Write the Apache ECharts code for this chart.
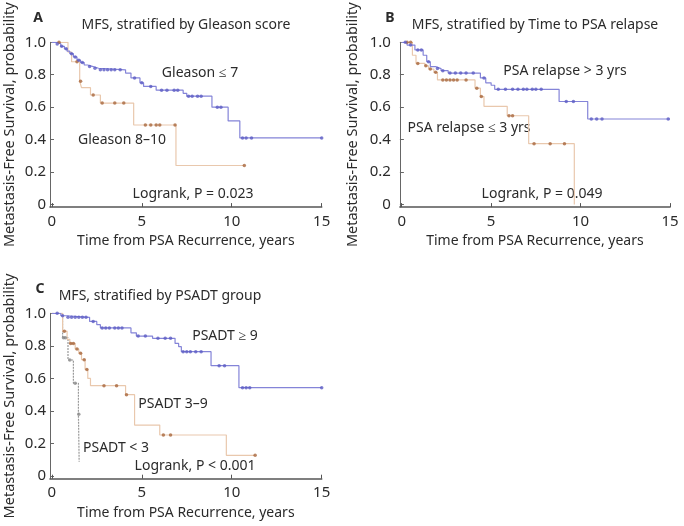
<!DOCTYPE html>
<html>
<head>
<meta charset="utf-8">
<script src="https://cdn.jsdelivr.net/npm/echarts@6/dist/echarts.min.js"></script>
<style>
html,body{margin:0;padding:0;background:#fff;}
#chart{width:684px;height:526px;}
</style>
</head>
<body>
<div id="chart"></div>
<script>
// ---------- Data ----------
// Panel A: Gleason score
const gleLowT = [0, 0.3, 0.5, 0.7, 0.85, 1.0, 1.2, 1.4, 1.6, 1.8, 2.0, 2.3, 2.6, 4.1, 4.4, 4.9, 5.1, 5.8, 7.3, 7.5, 8.9, 9.8, 10.45, 15.0];
const gleLowS = [1.0, 0.99, 0.975, 0.96, 0.945, 0.93, 0.91, 0.89, 0.875, 0.86, 0.85, 0.84, 0.83, 0.81, 0.78, 0.75, 0.728, 0.705, 0.685, 0.668, 0.60, 0.515, 0.41, 0.41];
const gleLowCens = [0.3, 0.55, 0.8, 1.1, 1.3, 1.5, 1.7, 2.1, 2.4, 2.7, 2.9, 3.1, 3.3, 3.5, 3.8, 4.6, 5.0, 5.5, 6.1, 6.4, 6.8, 7.0, 7.6, 7.8, 8.1, 8.3, 9.2, 9.4, 10.6, 10.8, 11.1, 15.0];
const gleHighT = [0, 0.9, 1.1, 1.55, 1.65, 2.15, 2.7, 4.55, 6.9, 10.7];
const gleHighS = [1.0, 0.94, 0.88, 0.76, 0.72, 0.675, 0.625, 0.49, 0.24, 0.24];
const gleHighCens = [0.4, 1.4, 1.6, 2.3, 2.8, 3.5, 4.0, 5.2, 5.5, 5.8, 6.0, 6.85, 10.7];

// Panel B: Time to PSA relapse
const lateT = [0, 0.3, 0.74, 1.2, 1.4, 1.6, 1.9, 2.2, 2.6, 4.4, 4.7, 5.0, 5.2, 8.8, 10.4, 15.0];
const lateS = [1.0, 0.983, 0.953, 0.92, 0.88, 0.85, 0.838, 0.825, 0.81, 0.78, 0.75, 0.735, 0.71, 0.635, 0.527, 0.527];
const lateCens = [0.2, 0.5, 0.9, 1.1, 1.5, 2.0, 2.3, 2.7, 3.0, 3.3, 3.6, 4.0, 4.6, 5.4, 5.8, 6.2, 6.5, 6.8, 7.0, 7.3, 7.5, 7.8, 9.2, 9.6, 10.6, 10.9, 11.2, 14.9];
const earlyT = [0, 0.6, 0.8, 1.3, 1.5, 1.8, 2.0, 4.1, 4.4, 4.6, 5.9, 7.1, 9.65];
const earlyS = [1.0, 0.92, 0.87, 0.855, 0.835, 0.815, 0.768, 0.717, 0.665, 0.605, 0.547, 0.375, 0.0];
const earlyCens = [0.3, 0.5, 0.9, 1.35, 1.6, 1.9, 2.3, 2.5, 2.7, 2.9, 3.1, 3.6, 4.2, 4.45, 6.0, 6.2, 7.4, 8.3, 9.1];

// Panel C: PSADT group
const dtHighT = [0, 0.5, 0.8, 2.1, 2.5, 2.7, 4.4, 4.7, 5.6, 6.85, 7.05, 7.2, 8.85, 10.4, 15.0];
const dtHighS = [1.0, 0.985, 0.975, 0.95, 0.93, 0.91, 0.88, 0.86, 0.846, 0.815, 0.795, 0.764, 0.678, 0.543, 0.543];
const dtHighCens = [0.3, 0.6, 0.9, 1.1, 1.3, 1.5, 1.7, 1.9, 2.3, 2.8, 3.0, 3.2, 3.5, 3.7, 3.9, 4.8, 5.2, 5.9, 6.3, 6.6, 7.3, 7.5, 7.7, 8.0, 8.3, 9.3, 9.6, 10.6, 10.8, 11.0, 15.0];
const dtMidT = [0, 0.6, 0.85, 1.0, 1.3, 1.5, 1.65, 1.85, 2.0, 2.15, 4.1, 4.6, 6.0, 9.7, 11.3];
const dtMidS = [1.0, 0.89, 0.84, 0.815, 0.78, 0.755, 0.715, 0.655, 0.60, 0.555, 0.50, 0.313, 0.252, 0.127, 0.127];
const dtMidCens = [0.7, 1.05, 1.2, 1.4, 1.6, 1.8, 1.95, 2.9, 3.6, 4.15, 6.2, 6.6, 11.3];
const dtLowT = [0, 0.6, 0.9, 1.2, 1.48, 1.52];
const dtLowS = [1.0, 0.85, 0.713, 0.57, 0.38, 0.088];
const dtLowCens = [0.65, 0.75, 1.0, 1.3, 1.5];

const xTicks = [0, 5, 10, 15];
const yTicks = [0, 0.2, 0.4, 0.6, 0.8, 1.0];

// ---------- Helpers ----------
const BLUE_LINE = '#8484d8', BLUE_MARK = '#5c5cc4';
const ORG_LINE = '#e9c8ad', ORG_MARK = '#a8663c';
const GRAY_LINE = '#9a9a9a', GRAY_MARK = '#8a8a8a';
const FONT = 'Noto Sans';
const TXT = '#2b2b2b';

function pairs(T, S) { return T.map((t, i) => [t, S[i]]); }
function censPts(T, S, C) {
  return C.map(c => {
    let s = S[0];
    for (let i = 0; i < T.length; i++) { if (T[i] <= c) s = S[i]; }
    return [c, s];
  });
}
function stepSeries(idx, T, S, color, dash) {
  return { type: 'line', xAxisIndex: idx, yAxisIndex: idx, step: 'end', data: pairs(T, S),
    showSymbol: false, silent: true, lineStyle: { color: color, width: 1.2, type: dash || 'solid' }, z: 2 };
}
function censSeries(idx, T, S, C, color) {
  return { type: 'scatter', xAxisIndex: idx, yAxisIndex: idx, data: censPts(T, S, C),
    symbol: 'circle', symbolSize: 3.5, silent: true, itemStyle: { color: color }, z: 3 };
}

const grids = [
  { left: 50, top: 42.3, width: 271.7, height: 164.8 },
  { left: 399.9, top: 42.3, width: 270.1, height: 164.8 },
  { left: 50, top: 313.3, width: 271.7, height: 165.4 }
];
const yNameGaps = [33, 40, 33];
const yLabelMargins = [4, 9, 4];

const xAxes = grids.map((g, i) => ({
  type: 'value', gridIndex: i, min: -0.1, max: 15,
  name: 'Time from PSA Recurrence, years', nameLocation: 'middle', nameGap: 27,
  nameTextStyle: { fontFamily: FONT, fontSize: 14, color: TXT },
  axisLine: { show: true, onZero: false, lineStyle: { color: '#555', width: 1.6 } },
  axisTick: { show: true, inside: true, length: 4, customValues: xTicks, lineStyle: { color: '#555' } },
  axisLabel: { customValues: xTicks, fontFamily: FONT, fontSize: 15, color: TXT, margin: 7 },
  splitLine: { show: false }
}));
const yAxes = grids.map((g, i) => ({
  type: 'value', gridIndex: i, min: -0.0165, max: 1.0,
  name: 'Metastasis-Free Survival, probability', nameLocation: 'middle', nameGap: yNameGaps[i],
  nameTextStyle: { fontFamily: FONT, fontSize: 14.5, color: TXT },
  axisLine: { show: true, onZero: false, lineStyle: { color: '#666', width: 1 } },
  axisTick: { show: true, inside: true, length: 4, customValues: yTicks, lineStyle: { color: '#666' } },
  axisLabel: { customValues: yTicks, fontFamily: FONT, fontSize: 15, color: TXT, margin: yLabelMargins[i],
    formatter: v => (Math.abs(v) < 1e-9 ? '0' : v.toFixed(1)) },
  splitLine: { show: false }
}));

function txt(x, y, s, opts) {
  return Object.assign({ type: 'text', x: x, y: y, silent: true,
    style: Object.assign({ text: s, fontFamily: FONT, fontSize: 14, fill: TXT, align: 'center', verticalAlign: 'middle' }, (opts || {})) });
}

const graphics = [
  txt(38, 18, 'A', { fontWeight: 'bold' }),
  txt(186, 25, 'MFS, stratified by Gleason score'),
  txt(200, 73, 'Gleason \u2264 7'),
  txt(122, 140, 'Gleason 8\u201310'),
  txt(193, 194, 'Logrank, P = 0.023'),
  txt(390, 18, 'B', { fontWeight: 'bold' }),
  txt(535, 25, 'MFS, stratified by Time to PSA relapse'),
  txt(565, 71, 'PSA relapse > 3 yrs'),
  txt(469, 128, 'PSA relapse \u2264 3 yrs'),
  txt(542, 194, 'Logrank, P = 0.049'),
  txt(40, 289, 'C', { fontWeight: 'bold' }),
  txt(160, 296, 'MFS, stratified by PSADT group'),
  txt(225, 336, 'PSADT \u2265 9'),
  txt(173, 404, 'PSADT 3\u20139'),
  txt(116, 448, 'PSADT < 3'),
  txt(195, 466, 'Logrank, P < 0.001')
];

const series = [
  stepSeries(0, gleHighT, gleHighS, ORG_LINE), censSeries(0, gleHighT, gleHighS, gleHighCens, ORG_MARK),
  stepSeries(0, gleLowT, gleLowS, BLUE_LINE), censSeries(0, gleLowT, gleLowS, gleLowCens, BLUE_MARK),
  stepSeries(1, earlyT, earlyS, ORG_LINE), censSeries(1, earlyT, earlyS, earlyCens, ORG_MARK),
  stepSeries(1, lateT, lateS, BLUE_LINE), censSeries(1, lateT, lateS, lateCens, BLUE_MARK),
  stepSeries(2, dtLowT, dtLowS, GRAY_LINE, [2, 1]), censSeries(2, dtLowT, dtLowS, dtLowCens, GRAY_MARK),
  stepSeries(2, dtMidT, dtMidS, ORG_LINE), censSeries(2, dtMidT, dtMidS, dtMidCens, ORG_MARK),
  stepSeries(2, dtHighT, dtHighS, BLUE_LINE), censSeries(2, dtHighT, dtHighS, dtHighCens, BLUE_MARK)
];

const chart = echarts.init(document.getElementById('chart'), null, { renderer: 'canvas' });
chart.setOption({
  animation: false,
  backgroundColor: '#ffffff',
  grid: grids,
  xAxis: xAxes,
  yAxis: yAxes,
  series: series,
  graphic: graphics
});
</script>
</body>
</html>
